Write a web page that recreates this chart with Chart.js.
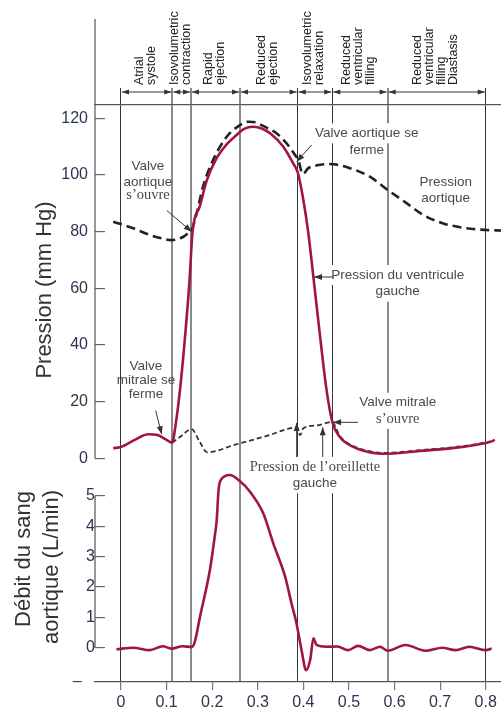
<!DOCTYPE html>
<html>
<head>
<meta charset="utf-8">
<script src="https://cdn.jsdelivr.net/npm/chart.js@4.4.1/dist/chart.umd.min.js"></script>
<style>
  html, body { margin: 0; padding: 0; background: #fff; overflow: hidden; }
  #wrap { position: relative; width: 501px; height: 711px; }
</style>
</head>
<body>
<div id="wrap"><canvas id="wiggers" width="501" height="711"></canvas></div>
<script>
// Phases du cycle (temps en s)
const phaseBounds = [0, 0.1125, 0.1535, 0.261, 0.3875, 0.4634, 0.585, 0.8];
const phaseLabels = [
  ['Atrial', 'systole'],
  ['Isovolumetric', 'contraction'],
  ['Rapid', 'ejection'],
  ['Reduced', 'ejection'],
  ['Isovolumetric', 'relaxation'],
  ['Reduced', 'ventricular', 'filling'],
  ['Reduced', 'ventricular', 'filling', 'Diastasis']
];
const phaseDark = [true, false, false, false, true, true, false, true];

// Graduations
const timeTicks = [0, 0.1, 0.2, 0.3, 0.4, 0.5, 0.6, 0.7, 0.8];
const pressureTicks = [0, 20, 40, 60, 80, 100, 120];
const flowTicks = [-1.12, 0, 1, 2, 3, 4, 5];

// Pression du ventricule gauche (mm Hg)
const lvTime = [-0.017, 0, 0.03, 0.06, 0.08, 0.1, 0.112, 0.12, 0.13, 0.14, 0.15, 0.157, 0.173, 0.188, 0.21, 0.23, 0.246, 0.27, 0.29, 0.31, 0.327, 0.356, 0.378, 0.3875, 0.40, 0.411, 0.422, 0.436, 0.451, 0.464, 0.48, 0.495, 0.52, 0.575, 0.65, 0.722, 0.78, 0.81, 0.82];
const lvPressure = [3.6, 4.0, 6.5, 8.5, 8.2, 6.5, 5.5, 12, 25, 42, 62, 80, 89, 98, 106, 110.5, 113, 116.3, 117, 116.3, 114.7, 110, 104, 101, 91.2, 79.4, 64, 44, 24, 12.6, 7.5, 5.3, 3.3, 1.6, 2.5, 3.5, 4.8, 5.8, 6.5];

// Pression aortique (mm Hg)
const aoTime = [-0.017, 0.027, 0.0636, 0.09, 0.111, 0.137, 0.151, 0.155, 0.166, 0.18, 0.202, 0.232, 0.261, 0.279, 0.295, 0.312, 0.341, 0.363, 0.382, 0.389, 0.3985, 0.411, 0.43, 0.458, 0.502, 0.546, 0.585, 0.627, 0.663, 0.707, 0.758, 0.8, 0.835];
const aoPressure = [83.5, 81.2, 78.8, 77.6, 77, 78.2, 80, 80.5, 86.5, 95.9, 105.3, 113.5, 117.6, 118.8, 118.6, 117.3, 114.7, 111.2, 107, 105.3, 100.3, 102.4, 103.4, 103.9, 102.4, 99.4, 94.7, 90, 85.9, 82.9, 81.2, 80.6, 80.4];

// Pression de l'oreillette gauche (mm Hg)
const laTime = [0.112, 0.13, 0.155, 0.172, 0.189, 0.25, 0.32, 0.386, 0.393, 0.40, 0.43, 0.463, 0.48, 0.495, 0.52, 0.575, 0.65, 0.722, 0.78, 0.81];
const laPressure = [5.5, 7.6, 10.3, 6.0, 2.1, 4.8, 7.9, 10.9, 8.2, 10.6, 11.6, 12.8, 7.8, 5.6, 3.6, 1.9, 2.8, 3.8, 5.0, 6.0];

// Débit du sang aortique (L/min)
const flowTime = [-0.01, 0.027, 0.063, 0.092, 0.11, 0.135, 0.155, 0.162, 0.173, 0.195, 0.205, 0.21, 0.214, 0.22, 0.239, 0.26, 0.283, 0.312, 0.334, 0.36, 0.374, 0.385, 0.396, 0.406, 0.415, 0.422, 0.429, 0.451, 0.475, 0.498, 0.52, 0.546, 0.568, 0.585, 0.624, 0.668, 0.705, 0.734, 0.764, 0.8, 0.813];
const flowValue = [-0.05, 0, -0.08, 0.05, -0.03, 0.05, 0.02, 0.2, 1.0, 2.56, 3.6, 4.21, 5.2, 5.55, 5.69, 5.5, 5.14, 4.43, 3.44, 2.34, 1.46, 0.8, -0.08, -0.74, -0.4, 0.31, 0.09, 0.03, 0.04, -0.08, 0.06, -0.08, 0.03, -0.1, 0.09, -0.1, 0, -0.08, 0.03, -0.08, -0.03];

// Annotations (t, pression) : lignes de texte et flèches
const notes = [
  { t: 0.0592, p: [102.9, 97.6, 92.9], text: ['Valve', 'aortique', 's’ouvre'], serif: [false, false, true] },
  { t: 0.539, p: [114.7, 108.8], text: ['Valve aortique se', 'ferme'], serif: [false, false], mask: true },
  { t: 0.7122, p: [97.3, 91.9], text: ['Pression', 'aortique'], serif: [false, false] },
  { t: 0.607, p: [64.7, 58.8], text: ['Pression du ventricule', 'gauche'], serif: [false, false], mask: true },
  { t: 0.0548, p: [32.6, 27.6, 22.7], text: ['Valve', 'mitrale se', 'ferme'], serif: [false, false, false] },
  { t: 0.607, p: [19.6, 13.9], text: ['Valve mitrale', 's’ouvre'], serif: [false, true], mask: true },
  { t: 0.4255, p: [-3.0, -8.8], text: ['Pression de l’oreillette', 'gauche'], serif: [true, false], mask: true }
];
const arrows = [
  [0.1009, 87.4, 0.1551, 80.0],
  [0.4183, 110.6, 0.3854, 104.7],
  [0.465, 64.0, 0.4233, 64.0],
  [0.0761, 16.8, 0.0893, 8.5],
  [0.5199, 12.7, 0.4651, 12.7],
  [0.3854, 0.46, 0.3854, 12.5],
  [0.4424, 0.46, 0.4424, 11.0]
];

const pts = (xs, ys) => xs.map((x, i) => ({ x: x, y: ys[i] }));
const sans = 'Liberation Sans, Arial, sans-serif';
const serif = 'Liberation Serif, Times New Roman, serif';
const tickColor = '#2b3550';

function arrowHead(ctx, x1, y1, x2, y2, len, half) {
  const a = Math.atan2(y2 - y1, x2 - x1);
  ctx.beginPath();
  ctx.moveTo(x2, y2);
  ctx.lineTo(x2 - len * Math.cos(a) + half * Math.sin(a), y2 - len * Math.sin(a) - half * Math.cos(a));
  ctx.lineTo(x2 - len * Math.cos(a) - half * Math.sin(a), y2 - len * Math.sin(a) + half * Math.cos(a));
  ctx.closePath();
  ctx.fill();
}

const decor = {
  id: 'decor',
  beforeDatasetsDraw(chart) {
    const ctx = chart.ctx;
    const x = chart.scales.x, yP = chart.scales.yP;
    ctx.save();
    ctx.textAlign = 'center';
    ctx.textBaseline = 'middle';
    notes.forEach(n => {
      const cx = x.getPixelForValue(n.t);
      n.text.forEach((s, i) => {
        ctx.font = n.serif[i] ? '14.5px ' + serif : '13.5px ' + sans;
        const cy = yP.getPixelForValue(n.p[i]);
        const w = ctx.measureText(s).width;
        if (n.mask) {
          ctx.fillStyle = '#fff';
          ctx.fillRect(cx - w / 2 - 3, cy - 10, w + 6, 20);
        }
      });
      n.text.forEach((s, i) => {
        ctx.font = n.serif[i] ? '14.5px ' + serif : '13.5px ' + sans;
        ctx.fillStyle = '#4a4a4a';
        ctx.fillText(s, cx, yP.getPixelForValue(n.p[i]));
      });
    });
    ctx.restore();
  },
  afterDraw(chart) {
    const ctx = chart.ctx;
    const area = chart.chartArea;
    const x = chart.scales.x, yP = chart.scales.yP, yF = chart.scales.yF;
    ctx.save();

    // axes verticaux (segments)
    ctx.strokeStyle = '#555';
    ctx.lineWidth = 1.2;
    ctx.beginPath();
    ctx.moveTo(area.left, 19);
    ctx.lineTo(area.left, yP.getPixelForValue(0));
    ctx.moveTo(area.left, yF.getPixelForValue(5));
    ctx.lineTo(area.left, yF.getPixelForValue(0));
    ctx.stroke();

    // flèches des phases
    ctx.strokeStyle = '#333';
    ctx.fillStyle = '#333';
    ctx.lineWidth = 1;
    const ay = 92;
    for (let i = 0; i < phaseBounds.length - 1; i++) {
      const a = x.getPixelForValue(phaseBounds[i]), b = x.getPixelForValue(phaseBounds[i + 1]);
      ctx.beginPath();
      ctx.moveTo(a + 1, ay);
      ctx.lineTo(b - 1, ay);
      ctx.stroke();
      arrowHead(ctx, b, ay, a + 1, ay, 7, 2.5);
      arrowHead(ctx, a, ay, b - 1, ay, 7, 2.5);
    }

    // libellés des phases (verticaux)
    ctx.font = '12.5px ' + sans;
    ctx.fillStyle = '#222';
    ctx.textAlign = 'left';
    ctx.textBaseline = 'middle';
    phaseLabels.forEach((lines, i) => {
      const cx = (x.getPixelForValue(phaseBounds[i]) + x.getPixelForValue(phaseBounds[i + 1])) / 2 - 1;
      lines.forEach((s, j) => {
        ctx.save();
        ctx.translate(cx + (j - (lines.length - 1) / 2) * 12, 85);
        ctx.rotate(-Math.PI / 2);
        ctx.fillText(s, 0, 0);
        ctx.restore();
      });
    });

    // flèches des annotations
    ctx.strokeStyle = '#333';
    ctx.fillStyle = '#333';
    ctx.lineWidth = 1;
    arrows.forEach(a => {
      const x1 = x.getPixelForValue(a[0]), y1 = yP.getPixelForValue(a[1]);
      const x2 = x.getPixelForValue(a[2]), y2 = yP.getPixelForValue(a[3]);
      ctx.beginPath();
      ctx.moveTo(x1, y1);
      ctx.lineTo(x2, y2);
      ctx.stroke();
      arrowHead(ctx, x1, y1, x2, y2, 8, 3);
    });

    // titres des axes
    ctx.fillStyle = '#333';
    ctx.textAlign = 'center';
    ctx.textBaseline = 'middle';
    ctx.font = '22px ' + sans;
    const title = (s, tx, ty) => {
      ctx.save();
      ctx.translate(tx, ty);
      ctx.rotate(-Math.PI / 2);
      ctx.fillText(s, 0, 0);
      ctx.restore();
    };
    title('Pression (mm Hg)', 45, 290);
    title('Débit du sang', 24, 559);
    title('aortique (L/min)', 52, 567);
    ctx.restore();
  }
};

new Chart(document.getElementById('wiggers'), {
  type: 'line',
  data: {
    datasets: [
      {
        label: 'Pression du ventricule gauche',
        data: pts(lvTime, lvPressure),
        yAxisID: 'yP',
        borderColor: '#a3163c',
        borderWidth: 2.6,
        cubicInterpolationMode: 'monotone',
        order: 0
      },
      {
        label: 'Pression aortique',
        data: pts(aoTime, aoPressure),
        yAxisID: 'yP',
        borderColor: '#222',
        borderWidth: 2.6,
        borderDash: [9, 5],
        cubicInterpolationMode: 'monotone',
        order: 1
      },
      {
        label: 'Pression de l’oreillette gauche',
        data: pts(laTime, laPressure),
        yAxisID: 'yP',
        borderColor: '#333',
        borderWidth: 1.8,
        borderDash: [5, 3],
        cubicInterpolationMode: 'monotone',
        order: 2
      },
      {
        label: 'Débit du sang aortique',
        data: pts(flowTime, flowValue),
        yAxisID: 'yF',
        borderColor: '#a3163c',
        borderWidth: 2.6,
        cubicInterpolationMode: 'monotone',
        order: 0
      }
    ]
  },
  options: {
    responsive: false,
    devicePixelRatio: 1,
    animation: false,
    layout: { padding: 0 },
    elements: { point: { radius: 0 } },
    plugins: { legend: { display: false }, tooltip: { enabled: false } },
    scales: {
      x: {
        type: 'linear',
        position: 'bottom',
        min: -0.057,
        max: 0.8335,
        afterBuildTicks: s => { s.ticks = timeTicks.map(v => ({ value: v })); },
        afterFit: s => { s.height = 29; },
        grid: { drawOnChartArea: false, tickLength: 8, color: '#777', lineWidth: 1.2 },
        border: { color: '#555', width: 1.2 },
        ticks: {
          autoSkip: false, maxRotation: 0, padding: 3,
          color: tickColor, font: { family: sans, size: 16 },
          callback: v => v === 0 ? '0' : v.toFixed(1)
        }
      },
      xPh: {
        type: 'linear',
        position: 'top',
        min: -0.057,
        max: 0.8335,
        afterBuildTicks: s => { s.ticks = phaseBounds.map(v => ({ value: v })); },
        afterFit: s => { s.height = 105; },
        grid: {
          drawOnChartArea: true,
          tickLength: 17,
          color: c => phaseDark[c.index] ? '#333' : '#8a8a8a',
          lineWidth: c => phaseDark[c.index] ? 1 : 2
        },
        border: { color: '#555', width: 1.2 },
        ticks: { display: false }
      },
      yP: {
        type: 'linear',
        position: 'left',
        min: -78.95,
        max: 124.7,
        afterBuildTicks: s => { s.ticks = pressureTicks.map(v => ({ value: v })); },
        afterFit: s => { s.width = 95; },
        grid: { drawOnChartArea: false, tickLength: -10, color: '#666', lineWidth: 1.2 },
        border: { display: false },
        ticks: { padding: 17, color: tickColor, font: { family: sans, size: 16 } }
      },
      yF: {
        type: 'linear',
        position: { x: -0.057 },
        min: -1.1305,
        max: 17.887,
        afterBuildTicks: s => { s.ticks = flowTicks.map(v => ({ value: v })); },
        grid: {
          drawOnChartArea: false, tickLength: -10, lineWidth: 1.2,
          color: c => (c.tick && c.tick.value < 0) ? 'rgba(0,0,0,0)' : '#666'
        },
        border: { display: false },
        ticks: {
          padding: 17, color: tickColor, font: { family: sans, size: 16 },
          callback: v => v < 0 ? '–   ' : v
        }
      }
    }
  },
  plugins: [decor]
});
</script>
</body>
</html>
